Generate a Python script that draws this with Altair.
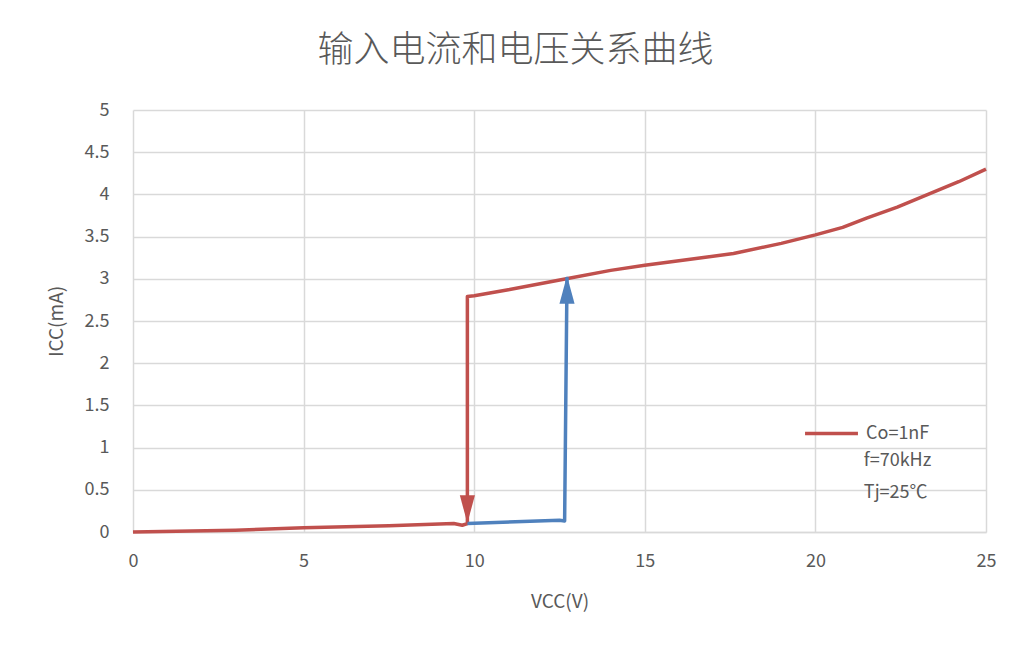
import altair as alt
import pandas as pd

# Red curve (Co=1nF): bottom branch, drop at ~9.8 V, top branch
red_x = [0, 3, 5, 7.5, 9.4, 9.65, 9.8, 9.8, 10.0, 11.0, 12.7, 14.0, 15.0, 16.5, 17.6, 19.0,
         20.0, 20.8, 21.5, 22.4, 23.3, 24.2, 25.0]
red_y = [0, 0.02, 0.05, 0.075, 0.1, 0.08, 0.1, 2.79, 2.8, 2.87, 3.0, 3.1, 3.16, 3.24, 3.3, 3.42,
         3.52, 3.61, 3.72, 3.85, 4.0, 4.15, 4.3]
# Blue curve: bottom branch from 9.8 V to the jump at ~12.7 V
blue_x = [9.8, 12.5, 12.65, 12.72]
blue_y = [0.1, 0.14, 0.13, 3.02]
# Arrow heads
arrow_x = [9.8, 12.72]
arrow_y = [0.27, 2.87]
arrow_dir = ["down", "up"]
# Annotation text
note_text = ["f=70kHz", "Tj=25℃"]
note_x = [21.42, 21.42]
note_y = [0.84, 0.46]

FONT = "Noto Sans CJK SC"
GRAY = "#595959"
RED = "#C0504D"
BLUE = "#4F81BD"

red_df = pd.DataFrame({"VCC": red_x, "ICC": red_y, "order": list(range(len(red_x))),
                       "series": ["Co=1nF"] * len(red_x)})
blue_df = pd.DataFrame({"VCC": blue_x, "ICC": blue_y, "order": list(range(len(blue_x)))})
arrow_df = pd.DataFrame({"VCC": arrow_x, "ICC": arrow_y, "dir": arrow_dir})
note_df = pd.DataFrame({"VCC": note_x, "ICC": note_y, "text": note_text})

xscale = alt.Scale(domain=[0, 25], nice=False, zero=False)
yscale = alt.Scale(domain=[0, 5], nice=False)

xaxis = alt.Axis(values=[0, 5, 10, 15, 20, 25], title="VCC(V)", grid=True, ticks=False,
                 domain=True, domainColor="#D9D9D9", domainWidth=1.5, labelFlush=False,
                 labelPadding=20, titlePadding=22)
yaxis = alt.Axis(values=[0, 0.5, 1, 1.5, 2, 2.5, 3, 3.5, 4, 4.5, 5], title="ICC(mA)",
                 grid=True, ticks=False, domain=False, labelPadding=24, titlePadding=18,
                 labelExpr="datum.value")

red = alt.Chart(red_df).mark_line(strokeWidth=3.5, strokeJoin="round").encode(
    x=alt.X("VCC:Q", scale=xscale, axis=xaxis),
    y=alt.Y("ICC:Q", scale=yscale, axis=yaxis),
    order="order:Q",
    color=alt.Color("series:N", scale=alt.Scale(domain=["Co=1nF"], range=[RED]),
                    legend=alt.Legend(title=None, orient="none", legendX=670, legendY=295,
                                      symbolType="stroke", symbolSize=2800,
                                      symbolStrokeWidth=3.5, labelFontSize=18,
                                      labelColor=GRAY, labelFont=FONT, labelOffset=6)),
)

blue = alt.Chart(blue_df).mark_line(strokeWidth=3.5, color=BLUE, strokeJoin="round").encode(
    x=alt.X("VCC:Q", scale=xscale),
    y=alt.Y("ICC:Q", scale=yscale),
    order="order:Q",
)

down_path = "M-0.54,-1L0.54,-1L0,1Z"
up_path = "M-0.54,1L0.54,1L0,-1Z"

arrows = alt.Chart(arrow_df).mark_point(filled=True, opacity=1, size=784).encode(
    x=alt.X("VCC:Q", scale=xscale),
    y=alt.Y("ICC:Q", scale=yscale),
    shape=alt.Shape("dir:N", scale=alt.Scale(domain=["down", "up"], range=[down_path, up_path]),
                    legend=None),
    color=alt.Color("dir:N", scale=alt.Scale(domain=["down", "up"], range=[RED, BLUE]),
                    legend=None),
)

notes = alt.Chart(note_df).mark_text(align="left", baseline="middle", fontSize=18,
                                     font=FONT, color=GRAY).encode(
    x=alt.X("VCC:Q", scale=xscale),
    y=alt.Y("ICC:Q", scale=yscale),
    text="text:N",
)

chart = alt.layer(red, blue, arrows, notes).resolve_scale(color="independent").properties(
    width=853,
    height=422,
    background="white",
    autosize=alt.AutoSizeParams(type="none"),
    padding={"left": 125, "top": 102, "right": 15, "bottom": 100},
    title=alt.TitleParams("输入电流和电压关系曲线", fontSize=36, font=FONT, fontWeight=300,
                          color=GRAY, anchor="middle", offset=31, dx=-44),
).configure_view(stroke=None).configure_axis(
    labelFont=FONT, labelFontSize=18, labelColor=GRAY,
    titleFont=FONT, titleFontSize=19, titleColor=GRAY, titleFontWeight="normal",
    gridColor="#D9D9D9", gridWidth=1.5,
)

chart.save("out.html", embed_options={"renderer": "svg", "actions": False})
